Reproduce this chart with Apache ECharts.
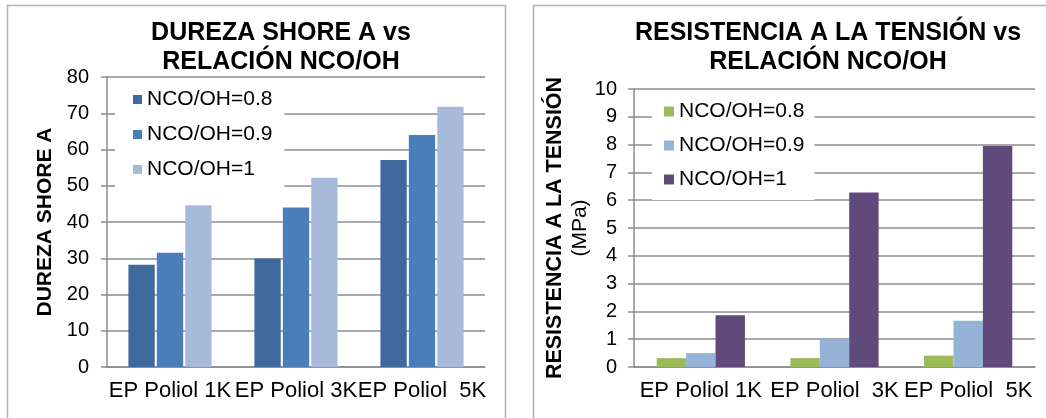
<!DOCTYPE html>
<html>
<head>
<meta charset="utf-8">
<script src="https://cdn.jsdelivr.net/npm/echarts@6/dist/echarts.min.js"></script>
<style>
  html, body { margin: 0; padding: 0; background: #fff; }
  #chart { width: 1046px; height: 418px; }
</style>
</head>
<body>
<div id="chart"></div>
<script>
// Categories for each panel
const hardnessCategories = ['EP Poliol 1K', 'EP Poliol 3K', 'EP Poliol  5K'];
const tensionCategories = ['EP Poliol 1K', 'EP Poliol  3K', 'EP Poliol  5K'];

// Series names
const ratioNames = ['NCO/OH=0.8', 'NCO/OH=0.9', 'NCO/OH=1'];

// Shore A hardness per NCO/OH ratio
const hardness08 = [28.2, 29.9, 57.1];
const hardness09 = [31.5, 44.0, 64.0];
const hardness10 = [44.6, 52.2, 71.8];

// Tensile strength (MPa) per NCO/OH ratio
const tension08 = [0.32, 0.32, 0.41];
const tension09 = [0.50, 1.02, 1.66];
const tension10 = [1.86, 6.28, 7.95];

const FONT = '"Liberation Sans", Arial, sans-serif';
const hardnessColors = ['#3F689C', '#4A7EBB', '#A8BADA'];
const tensionColors = ['#9BBB59', '#95B3D7', '#604A7B'];
const GRID_COLOR = '#8C8C8C';

const chart = echarts.init(document.getElementById('chart'), null, { renderer: 'canvas' });

function yAxisBase(gridIndex, max, interval) {
  return {
    gridIndex: gridIndex,
    type: 'value',
    min: 0,
    max: max,
    interval: interval,
    axisLine: { show: true, lineStyle: { color: GRID_COLOR, width: 1.5 } },
    axisTick: { show: true, length: 6, lineStyle: { color: GRID_COLOR, width: 1.5 } },
    splitLine: { show: true, lineStyle: { color: GRID_COLOR, width: 1.5 } },
    axisLabel: { color: '#000', fontSize: 20, fontFamily: FONT, margin: 18 }
  };
}

function xAxisBase(gridIndex, cats) {
  return {
    gridIndex: gridIndex,
    type: 'category',
    data: cats,
    axisLine: { show: true, lineStyle: { color: GRID_COLOR, width: 1.5 } },
    axisTick: { show: false },
    axisLabel: { color: '#000', fontSize: 22, fontFamily: FONT, margin: 13, interval: 0 }
  };
}

function legendBase(left, top, colors, iconSize, gap, pad) {
  return {
    orient: 'vertical',
    left: left,
    top: top,
    itemWidth: iconSize,
    itemHeight: iconSize,
    itemGap: gap,
    icon: 'rect',
    backgroundColor: '#fff',
    padding: pad,
    selectedMode: false,
    textStyle: { color: '#000', fontSize: 21, fontFamily: FONT },
    data: ratioNames.map((n, i) => ({ name: n, itemStyle: { color: colors[i] } }))
  };
}

const hardnessSeries = [hardness08, hardness09, hardness10].map((vals, i) => ({
  name: ratioNames[i],
  type: 'bar',
  xAxisIndex: 0,
  yAxisIndex: 0,
  data: vals,
  barGap: '8%',
  barCategoryGap: '34%',
  itemStyle: { color: hardnessColors[i] },
  silent: true
}));

const tensionSeries = [tension08, tension09, tension10].map((vals, i) => ({
  name: ratioNames[i],
  type: 'bar',
  xAxisIndex: 1,
  yAxisIndex: 1,
  data: vals,
  barGap: '0%',
  barCategoryGap: '34%',
  itemStyle: { color: tensionColors[i] },
  silent: true
}));

const leftY = yAxisBase(0, 80, 10);
leftY.name = 'DUREZA SHORE A';
leftY.nameLocation = 'middle';
leftY.nameRotate = 90;
leftY.nameGap = 51;
leftY.nameTextStyle = { color: '#000', fontSize: 21, fontWeight: 'bold', fontFamily: FONT };

const rightY = yAxisBase(1, 10, 1);
rightY.axisLabel.margin = 17;
rightY.name = '{a|RESISTENCIA A LA TENSIÓN}\n{b|(MPa)}';
rightY.nameLocation = 'middle';
rightY.nameRotate = 90;
rightY.nameGap = 22;
rightY.nameTextStyle = {
  rich: {
    a: { color: '#000', fontSize: 21.5, fontWeight: 'bold', fontFamily: FONT, lineHeight: 25 },
    b: { color: '#000', fontSize: 21, fontFamily: FONT, lineHeight: 25 }
  }
};

const option = {
  animation: false,
  backgroundColor: '#fff',
  grid: [
    { left: 107, top: 77, width: 378, height: 290 },
    { left: 634, top: 89, width: 401, height: 278 }
  ],
  xAxis: [xAxisBase(0, hardnessCategories), xAxisBase(1, tensionCategories)],
  yAxis: [leftY, rightY],
  legend: [
    legendBase(115, 82, hardnessColors, 9, 14, [7, 12, 11, 18]),
    legendBase(652, 95, tensionColors, 10, 13, [6, 10, 10, 12])
  ],
  series: hardnessSeries.concat(tensionSeries),
  graphic: [
    {
      type: 'rect', silent: true, z: -10,
      shape: { x: 7.5, y: 5.5, width: 498, height: 430 },
      style: { fill: 'none', stroke: '#B4B4B4', lineWidth: 1.5 }
    },
    {
      type: 'rect', silent: true, z: -10,
      shape: { x: 533.5, y: 5.5, width: 530, height: 430 },
      style: { fill: 'none', stroke: '#B4B4B4', lineWidth: 1.5 }
    },
    {
      type: 'text', silent: true,
      x: 281, y: 19,
      style: {
        text: 'DUREZA SHORE A vs\nRELACIÓN NCO/OH',
        font: 'bold 25px ' + FONT,
        lineHeight: 29,
        fill: '#000',
        align: 'center',
        verticalAlign: 'top'
      }
    },
    {
      type: 'text', silent: true,
      x: 828, y: 19,
      style: {
        text: 'RESISTENCIA A LA TENSIÓN vs\nRELACIÓN NCO/OH',
        font: 'bold 25px ' + FONT,
        lineHeight: 29,
        fill: '#000',
        align: 'center',
        verticalAlign: 'top'
      }
    }
  ]
};

chart.setOption(option);
</script>
</body>
</html>
